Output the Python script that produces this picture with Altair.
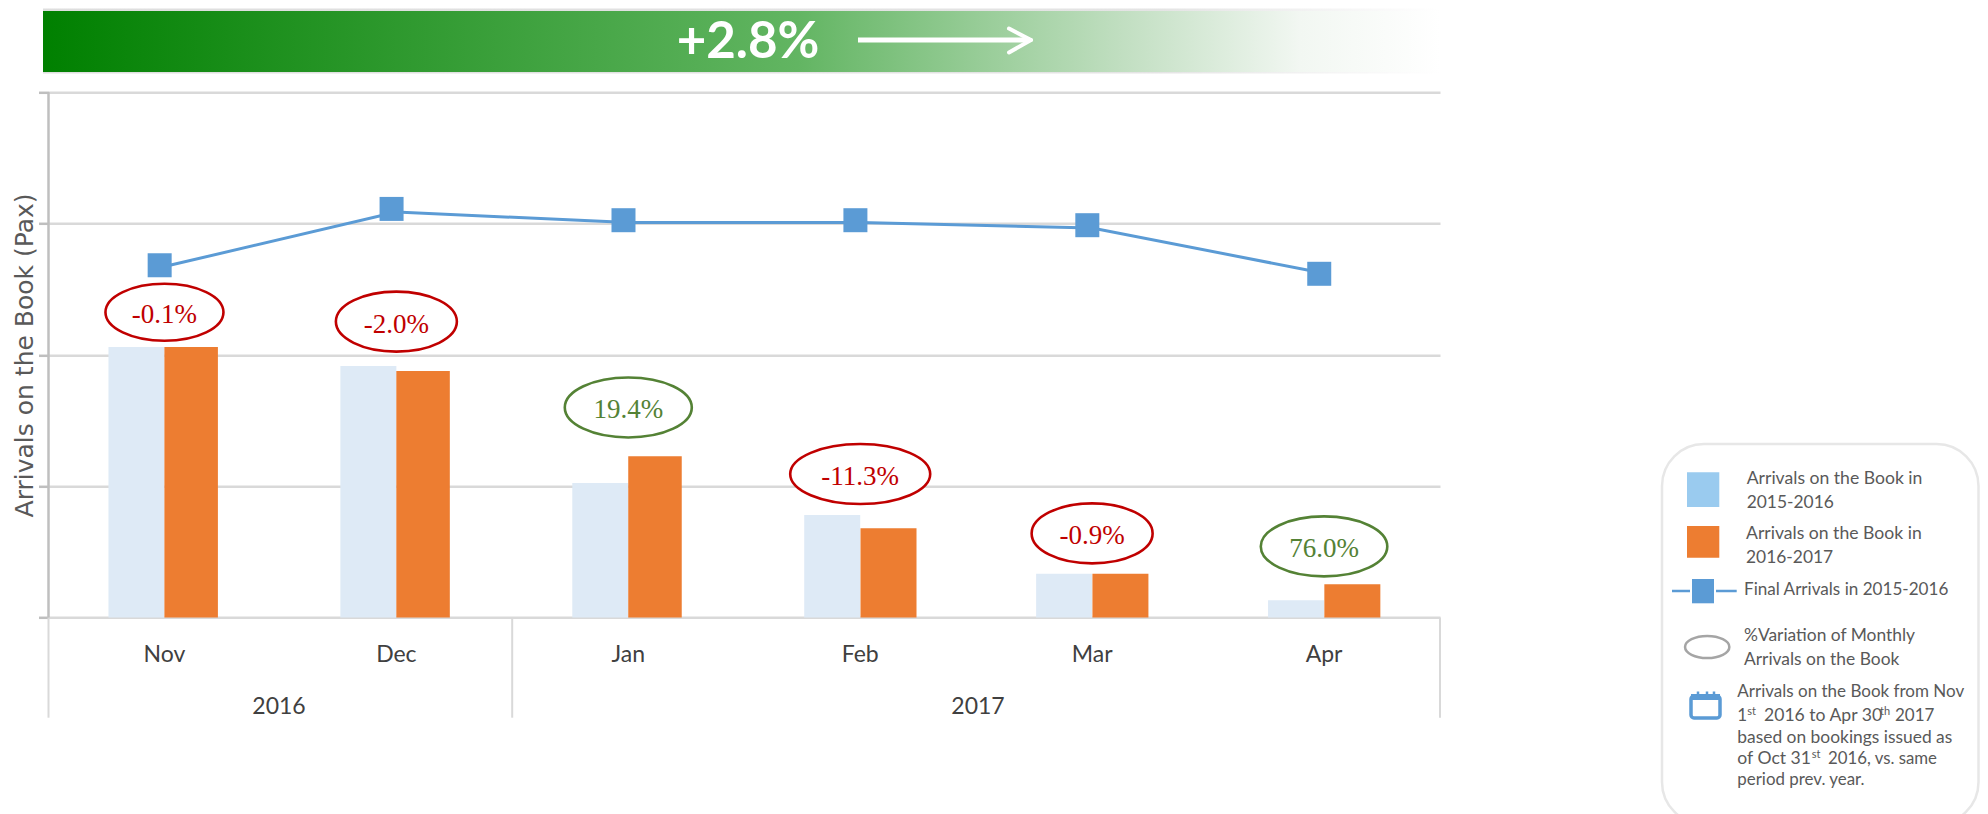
import altair as alt
import pandas as pd

months = ["Nov", "Dec", "Jan", "Feb", "Mar", "Apr"]
arrivals_2015_16 = [206, 191.6, 102.5, 78.1, 33.4, 13.2]
arrivals_2016_17 = [206, 187.8, 122.8, 68, 33.4, 25.4]
final_2015_16 = [267.3, 308.9, 300.8, 300.8, 296.7, 262.2]
final_markers = [268.3, 311.2, 302.6, 302.6, 298.8, 261.8]
variation_labels = ["-0.1%", "-2.0%", "19.4%", "-11.3%", "-0.9%", "76.0%"]
variation_y = [232.5, 225.4, 160.0, 109.3, 64.1, 54.2]
variation_w = [118, 121, 127, 140, 121, 126.5]
variation_h = [57, 60, 60, 60, 60, 60]

X0, Y0 = 48.5, 92.3
PW, PH = 1391.5, 525.3
GREY = "#d9d9d9"
BLUE = "#5b9bd5"
ORANGE = "#ed7d31"
TXT = "#595959"


def px(v):
    return alt.value(v - X0)


def py(v):
    return alt.value(v - Y0)


def ellipse_path(w, h):
    r = h / w
    return f"M-1,0A1,{r:.4f} 0 1,1 1,0A1,{r:.4f} 0 1,1 -1,0Z"


df = pd.DataFrame({
    "month": months,
    "a": arrivals_2015_16,
    "b": arrivals_2016_17,
    "final": final_2015_16,
    "marker": final_markers,
    "label": variation_labels,
    "vy": variation_y,
    "path": [ellipse_path(w, h) for w, h in zip(variation_w, variation_h)],
    "size": [w * w for w in variation_w],
    "col": ["#c00000" if s.startswith("-") else "#548235" for s in variation_labels],
})

x = alt.X(
    "month:N", sort=months, title=None,
    scale=alt.Scale(domain=months, paddingInner=0, paddingOuter=0),
    axis=alt.Axis(labelFont="Lato", labelFontSize=23, labelColor="#404040", labelAngle=0,
                  labelPadding=26, ticks=False, domain=False, grid=False),
)
y_scale = alt.Scale(domain=[0, 400], nice=False)
y = alt.Y(
    "a:Q", scale=y_scale, title="Arrivals on the Book (Pax)",
    axis=alt.Axis(values=[0, 100, 200, 300, 400], labels=False, tickSize=10, tickColor="#bfbfbf",
                  tickWidth=2.5, grid=True, gridColor=GREY, gridWidth=2.5, domain=False,
                  titleFont="DejaVu Sans", titleFontSize=25, titleFontWeight="normal",
                  titleColor=TXT, titlePadding=0),
)
base = alt.Chart(df)
first_half = alt.FieldOneOfPredicate(field="month", oneOf=months[:3])
second_half = alt.FieldOneOfPredicate(field="month", oneOf=months[3:])
layers = [
    base.mark_bar(width=56, xOffset=-28, color="#deeaf6").encode(x=x, y=y),
    base.transform_filter(first_half).mark_bar(width=53.5, xOffset=26.7, color=ORANGE).encode(
        x=x, y=alt.Y("b:Q", scale=y_scale)),
    base.transform_filter(second_half).mark_bar(width=56, xOffset=28.3, color=ORANGE).encode(
        x=x, y=alt.Y("b:Q", scale=y_scale)),
    base.mark_line(color=BLUE, strokeWidth=3).encode(x=x, y=alt.Y("final:Q", scale=y_scale)),
    base.mark_point(shape="square", filled=True, opacity=1, color=BLUE, size=576, xOffset=-4.8).encode(
        x=x, y=alt.Y("marker:Q", scale=y_scale)),
    base.mark_point(filled=False, opacity=1, fill="white", fillOpacity=1, strokeWidth=2.6).encode(
        x=x, y=alt.Y("vy:Q", scale=y_scale),
        shape=alt.Shape("path:N", scale=None),
        size=alt.Size("size:Q", scale=None),
        stroke=alt.Stroke("col:N", scale=None)),
    base.mark_text(font="Liberation Serif", fontSize=27, dy=3).encode(
        x=x, y=alt.Y("vy:Q", scale=y_scale), text="label:N",
        color=alt.Color("col:N", scale=None)),
]


def rule(x1, y1, x2, y2, color, width, cap="butt"):
    return alt.Chart().mark_rule(color=color, strokeWidth=width, strokeCap=cap).encode(
        x=px(x1), x2=px(x2), y=py(y1), y2=py(y2))


def rect(x1, y1, x2, y2, **kw):
    return alt.Chart().mark_rect(**kw).encode(x=px(x1), x2=px(x2), y=py(y1), y2=py(y2))


def text(x1, y1, s, size=16, color=TXT, font="Lato", **kw):
    return alt.Chart().mark_text(font=font, fontSize=size, color=color, align=kw.pop("align", "left"),
                                 baseline=kw.pop("baseline", "alphabetic"), **kw).encode(
        x=px(x1), y=py(y1), text=alt.value(s))


# separators below the plot
layers += [
    rule(48.5, 92.3, 48.5, 617.6, "#bfbfbf", 2.5),
    rule(48.5, 617.6, 48.5, 717.7, GREY, 2),
    rule(512.2, 617.6, 512.2, 717.7, GREY, 2),
    rule(1440, 617.6, 1440, 717.7, GREY, 2),
    text(279, 707, "2016", size=23, color="#404040", align="center", baseline="middle"),
    text(978, 707, "2017", size=23, color="#404040", align="center", baseline="middle"),
]


def grad(stops):
    return alt.LinearGradient(gradient="linear", x1=0, x2=1, y1=0, y2=0,
                              stops=[alt.GradientStop(color=c, offset=o) for o, c in stops])


# banner
layers += [
    rect(43, 8.5, 1440, 73.5, color=grad([(0, "#dedede"), (0.8, "#e4e4e4"), (1, "#ffffff")])),
    rect(43, 11, 1440, 72, color=grad([(0, "#008000"), (0.54, "#62b562"), (0.78, "#c4e0c4"),
                                       (0.9, "#f2f7f2"), (1, "#ffffff")])),
    text(748, 43, "+2.8%", size=51, color="white", align="center", baseline="middle", fontWeight="bold"),
    rule(858, 40, 1030, 40, "white", 5),
    rule(1009, 28.5, 1031, 40, "white", 4, "round"),
    rule(1009, 52.5, 1031, 40, "white", 4, "round"),
]

# legend panel
layers += [
    rect(1662, 444, 1978.5, 824, fill="white", stroke="#e7e7e7", strokeWidth=2.5, cornerRadius=42),
    rect(1687, 472.3, 1719.3, 507, color="#9acbef"),
    rect(1687, 526, 1719.3, 557.7, color=ORANGE),
    rule(1672, 591, 1690, 591, BLUE, 2.5),
    rule(1716, 591, 1736.7, 591, BLUE, 2.5),
    rect(1692, 579, 1714, 603.3, color=BLUE),
    alt.Chart().mark_point(shape=ellipse_path(44.3, 22), filled=False, opacity=1, size=44.3 ** 2,
                           stroke="#a5a5a5", strokeWidth=2.5).encode(x=px(1707.2), y=py(647)),
    rect(1691, 696, 1720, 718, fill="white", stroke="#5b9bd5", strokeWidth=3.5, cornerRadius=3),
    rect(1691, 694, 1720, 700, color="#5b9bd5"),
    rule(1698, 691.5, 1698, 696, "#5b9bd5", 2.5),
    rule(1707, 691.5, 1707, 696, "#5b9bd5", 2.5),
    rule(1714, 691.5, 1714, 696, "#5b9bd5", 2.5),
]
legend_lines = [
    (1746.7, 484, "Arrivals on the Book in", 17.6),
    (1746.7, 508, "2015-2016", 17.4),
    (1746, 539, "Arrivals on the Book in", 17.6),
    (1746, 562.7, "2016-2017", 17.4),
    (1744, 595, "Final Arrivals in 2015-2016", 17.1),
    (1744, 641, "%Variation of Monthly", 17.4),
    (1744, 665, "Arrivals on the Book", 17.4),
    (1737.3, 696.7, "Arrivals on the Book from Nov", 17),
    (1737.3, 721, "1", 17),
    (1764, 721, "2016 to Apr 30", 17.6),
    (1895, 721, "2017", 17),
    (1737.3, 742.7, "based on bookings issued as", 17.4),
    (1737.3, 764, "of Oct 31", 17.6),
    (1828, 764, "2016, vs. same", 16.8),
    (1737.3, 785, "period prev. year.", 16.9),
]
legend_sups = [(1747.3, 715, "st"), (1880, 715, "th"), (1811.7, 758, "st")]
layers += [text(a, b, s, size=z) for a, b, s, z in legend_lines]
layers += [text(a, b, s, size=11) for a, b, s in legend_sups]

chart = alt.layer(*layers).properties(
    width=PW, height=PH,
    autosize=alt.AutoSizeParams(type="none"),
    padding={"left": X0 - 8, "top": Y0 - 8, "right": 1972 - (X0 - 8) - PW, "bottom": 806 - (Y0 - 8) - PH},
    background="white",
).configure_view(stroke=None)

chart.save("out.html", embed_options={"renderer": "svg", "actions": False})
